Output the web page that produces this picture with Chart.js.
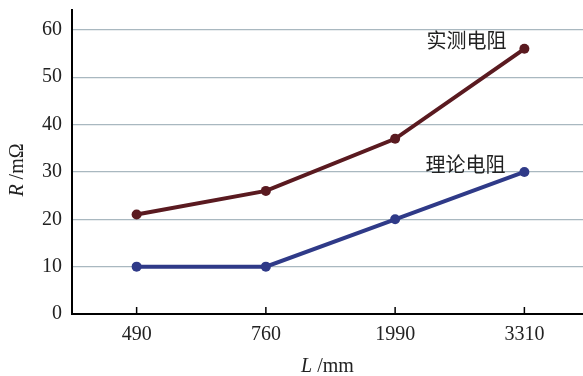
<!DOCTYPE html>
<html>
<head>
<meta charset="utf-8">
<script src="https://cdn.jsdelivr.net/npm/chart.js@4/dist/chart.umd.min.js"></script>
<style>
  html, body { margin: 0; padding: 0; background: #fff; overflow: hidden; }
  #wrap { width: 594px; height: 376px; }
</style>
</head>
<body>
<div id="wrap"><canvas id="chart" width="594" height="376"></canvas></div>
<script>
let lengths = ["490", "760", "1990", "3310"]
let measured = [21, 26, 37, 56]
let theory = [10, 10, 20, 30]
let yTicks = [0, 10, 20, 30, 40, 50, 60]
let measuredName = "实测电阻"
let theoryName = "理论电阻"

let serif = "'Liberation Serif', 'DejaVu Serif', serif"
let cjk = "'Noto Sans CJK SC', sans-serif"

// 坐标轴标题 + 曲线名称 + 向内刻度
let extras = {
  id: "extras",
  afterDraw(chart) {
    let ctx = chart.ctx
    let xs = chart.scales.x
    let ys = chart.scales.y
    let area = chart.chartArea
    ctx.save()
    // x 轴向内刻度
    ctx.strokeStyle = "#000"
    ctx.lineWidth = 1.5
    for (let i = 0; i < lengths.length; i++) {
      let px = xs.getPixelForValue(i)
      ctx.beginPath()
      ctx.moveTo(px, area.bottom)
      ctx.lineTo(px, area.bottom - 7)
      ctx.stroke()
    }
    ctx.fillStyle = "#222"
    ctx.textBaseline = "middle"
    // 曲线名称
    ctx.font = "20px " + cjk
    ctx.textAlign = "center"
    ctx.fillText(measuredName, xs.getPixelForValue(3) - 58, ys.getPixelForValue(measured[3]) - 8)
    ctx.fillText(theoryName, xs.getPixelForValue(3) - 59, ys.getPixelForValue(theory[3]) - 8)
    // x 轴标题
    let cx = (area.left + 583) / 2
    ctx.textAlign = "left"
    let a = "L", b = " /mm"
    ctx.font = "italic 20px " + serif
    let wa = ctx.measureText(a).width
    ctx.font = "20px " + serif
    let wb = ctx.measureText(b).width
    let x0 = cx - (wa + wb) / 2
    ctx.font = "italic 20px " + serif
    ctx.fillText(a, x0, 367)
    ctx.font = "20px " + serif
    ctx.fillText(b, x0 + wa, 367)
    // y 轴标题
    ctx.translate(18, (area.top + area.bottom) / 2 + 8)
    ctx.rotate(-Math.PI / 2)
    a = "R"; b = " /mΩ"
    ctx.font = "italic 20px " + serif
    wa = ctx.measureText(a).width
    ctx.font = "20px " + serif
    wb = ctx.measureText(b).width
    x0 = -(wa + wb) / 2
    ctx.font = "italic 20px " + serif
    ctx.fillText(a, x0, 0)
    ctx.font = "20px " + serif
    ctx.fillText(b, x0 + wa, 0)
    ctx.restore()
  }
}

new Chart(document.getElementById("chart"), {
  type: "line",
  data: {
    labels: lengths,
    datasets: [
      {
        label: measuredName,
        data: measured,
        borderColor: "#5a1a20",
        backgroundColor: "#5a1a20",
        borderWidth: 4,
        pointRadius: 5,
        pointBorderWidth: 0
      },
      {
        label: theoryName,
        data: theory,
        borderColor: "#2f3a88",
        backgroundColor: "#2f3a88",
        borderWidth: 4,
        pointRadius: 5,
        pointBorderWidth: 0
      }
    ]
  },
  options: {
    responsive: false,
    animation: false,
    layout: { padding: { left: 32, top: 10, right: 0, bottom: 20 } },
    plugins: { legend: { display: false }, tooltip: { enabled: false } },
    scales: {
      x: {
        offset: true,
        grid: { display: false, drawTicks: false },
        border: { color: "#000", width: 2 },
        ticks: { color: "#222", font: { family: serif, size: 20 }, padding: 9 }
      },
      y: {
        min: 0,
        max: 64.2,
        afterBuildTicks(axis) {
          axis.ticks = yTicks.map(v => ({ value: v }))
        },
        afterFit(axis) {
          axis.paddingTop = 0
        },
        grid: { color: "#a9b8c0", lineWidth: 1.3, drawTicks: false },
        border: { color: "#000", width: 2 },
        ticks: { color: "#222", font: { family: serif, size: 20 }, padding: 10 }
      }
    }
  },
  plugins: [extras]
})
</script>
</body>
</html>
